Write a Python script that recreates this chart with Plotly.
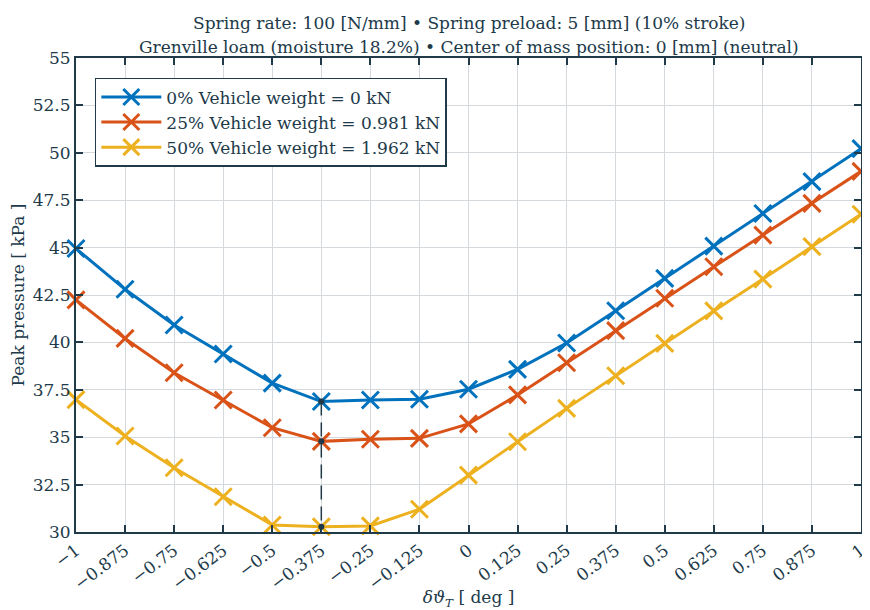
import numpy as np
import plotly.graph_objects as go

x_vals = [-1, -0.875, -0.75, -0.625, -0.5, -0.375, -0.25, -0.125, 0,
          0.125, 0.25, 0.375, 0.5, 0.625, 0.75, 0.875, 1]
tick_text = ["−1", "−0.875", "−0.75", "−0.625", "−0.5", "−0.375", "−0.25", "−0.125", "0",
             "0.125", "0.25", "0.375", "0.5", "0.625", "0.75", "0.875", "1"]

w0 = [44.95, 42.8, 40.92, 39.39, 37.85, 36.88, 36.96, 37.0, 37.53,
      38.58, 39.97, 41.67, 43.38, 45.08, 46.8, 48.48, 50.22]
w25 = [42.24, 40.21, 38.4, 36.96, 35.5, 34.78, 34.89, 34.94, 35.7,
       37.23, 38.93, 40.62, 42.33, 43.99, 45.66, 47.33, 49.02]
w50 = [36.98, 35.06, 33.39, 31.86, 30.37, 30.28, 30.32, 31.2, 33.0,
       34.76, 36.52, 38.24, 39.95, 41.66, 43.34, 45.05, 46.76]

names = ["0% Vehicle weight = 0 kN",
         "25% Vehicle weight = 0.981 kN",
         "50% Vehicle weight = 1.962 kN"]
colors = ["#0072BD", "#D95319", "#EDB120"]
title_lines = ["Spring rate: 100 [N/mm] • Spring preload: 5 [mm] (10% stroke)",
               "Grenville loam (moisture 18.2%) • Center of mass position: 0 [mm] (neutral)"]

INK = "#213a4a"
FONT = "DejaVu Serif"
FS = 17

fig = go.Figure()
for ys, nm, c in zip([w0, w25, w50], names, colors):
    fig.add_trace(go.Scatter(
        x=x_vals, y=ys, name=nm, mode="lines+markers", cliponaxis=False,
        line=dict(color=c, width=3),
        marker=dict(symbol="x-thin", size=17, color=c, line=dict(color=c, width=3)),
    ))

# vertical dashed line through minima
mins_x, mins_y = [], []
for ys in [w0, w25, w50]:
    i = int(np.argmin(ys))
    mins_x.append(x_vals[i])
    mins_y.append(ys[i])
fig.add_trace(go.Scatter(
    x=mins_x, y=mins_y, mode="lines+markers", showlegend=False, cliponaxis=False,
    line=dict(color=INK, width=1.5, dash="14px,7px"),
    marker=dict(symbol="circle", size=6, color=INK),
))

for k, t in enumerate(title_lines):
    fig.add_annotation(
        text=t, xref="paper", yref="paper", x=0.5, xanchor="center",
        y=1.0 + (35 - 24 * k) / 474, yanchor="middle", showarrow=False,
        font=dict(family=FONT, size=FS, color=INK),
    )

# page body adds an 8px offset, so the figure is 8px smaller than the window
fig.update_layout(
    width=862, height=602,
    margin=dict(l=68, r=9, t=50, b=78, autoexpand=False),
    paper_bgcolor="white", plot_bgcolor="white",
    font=dict(family=FONT, size=FS, color=INK),
    legend=dict(
        x=0.024, y=0.958, xanchor="left", yanchor="top",
        bgcolor="white", bordercolor=INK, borderwidth=1.5,
        font=dict(family=FONT, size=FS, color=INK),
        tracegroupgap=0, itemwidth=60,
    ),
    showlegend=True,
)

fig.update_xaxes(
    range=[-1, 1], tickvals=x_vals, ticktext=tick_text, tickangle=-37,
    automargin=False,
    showgrid=True, gridcolor="#d3d9dc", gridwidth=1,
    showline=True, linecolor=INK, linewidth=2, mirror="ticks",
    ticks="inside", ticklen=7, tickcolor=INK, tickwidth=1.5,
    zeroline=False,
    tickfont=dict(family=FONT, size=FS, color=INK),
    title=dict(text="<i>δϑ</i><sub><i>T</i></sub> [ deg ]", standoff=12,
               font=dict(family=FONT, size=FS, color=INK)),
)
fig.update_yaxes(
    range=[30, 55], dtick=2.5,
    automargin=False,
    showgrid=True, gridcolor="#d3d9dc", gridwidth=1,
    showline=True, linecolor=INK, linewidth=2, mirror="ticks",
    ticks="inside", ticklen=7, tickcolor=INK, tickwidth=1.5,
    zeroline=False,
    tickfont=dict(family=FONT, size=FS, color=INK),
    title=dict(text="Peak pressure [ kPa ]", standoff=4,
               font=dict(family=FONT, size=FS, color=INK)),
)

fig.write_html("out.html")
